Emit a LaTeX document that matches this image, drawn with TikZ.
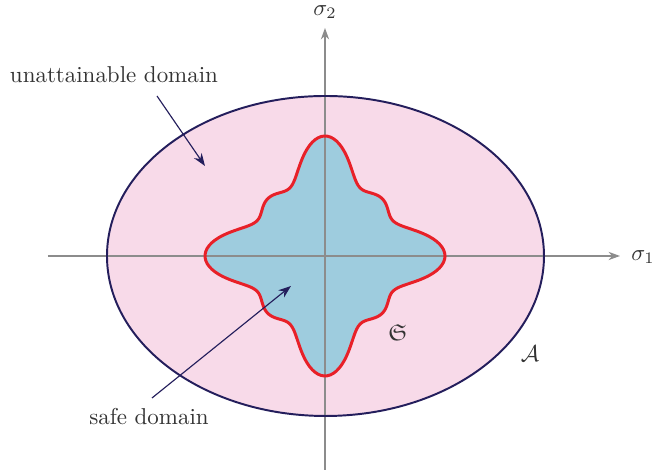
\documentclass[tikz,border=0pt]{standalone}
\usepackage{amsmath,amssymb}
\usepackage{xcolor}
\usepackage{tikz}
\usetikzlibrary{arrows.meta}

\definecolor{domainpink}{RGB}{248,218,233}
\definecolor{safeblue}{RGB}{158,204,222}
\definecolor{rimnavy}{RGB}{36,30,92}
\definecolor{safered}{RGB}{232,32,40}
\definecolor{axisgray}{RGB}{140,140,140}

\tikzset{
  axisline/.style={axisgray, line width=0.55pt, -{Stealth[length=5pt,width=3.6pt]}},
  pointer/.style={rimnavy, line width=0.5pt, -{Stealth[length=5.5pt,width=4pt]}},
  domainlabel/.style={black!80}
}

\begin{document}
\begin{tikzpicture}[x=0.0153cm, y=0.0153cm]
  \useasboundingbox (-325,-218) rectangle (327,256);

  % attainable domain and safe domain, filled first
  \fill[domainpink] (0.5,0) ellipse [x radius=218.5, y radius=160];
  \fill[safeblue] plot[domain=0:360, samples=240, smooth cycle]
    (\x:{90.7+19.5*cos(4*\x)+9.8*cos(8*\x)});

  % stress axes
  \coordinate (o1) at (-277,0);  \coordinate (e1) at (295,0);
  \coordinate (o2) at (0,-214);  \coordinate (e2) at (0,228);
  \draw[axisline] (o1) -- (e1);
  \draw[axisline] (o2) -- (e2);
  \node[domainlabel] (s1) at (318,-1) {$\sigma_1$};
  \node[domainlabel] (s2) at (0,244) {$\sigma_2$};

  % outlines
  \draw[rimnavy, line width=0.85pt] (0.5,0) ellipse [x radius=218.5, y radius=160];
  \draw[safered, line width=1.3pt] plot[domain=0:360, samples=240, smooth cycle]
    (\x:{90.7+19.5*cos(4*\x)+9.8*cos(8*\x)});

  \node[domainlabel] (frakS) at (73,-77) {$\mathfrak{S}$};
  \node[domainlabel] (calA) at (205,-98) {$\mathcal{A}$};

  % labels with pointers
  \node[domainlabel] (unatt) at (-211,181) {unattainable domain};
  \node[domainlabel] (safe) at (-176,-161) {safe domain};
  \coordinate (u1) at (-168,160); \coordinate (u2) at (-120,90);
  \coordinate (f1) at (-173,-142); \coordinate (f2) at (-34,-30);
  \draw[pointer] (u1) -- (u2);
  \draw[pointer] (f1) -- (f2);
\end{tikzpicture}
\end{document}
